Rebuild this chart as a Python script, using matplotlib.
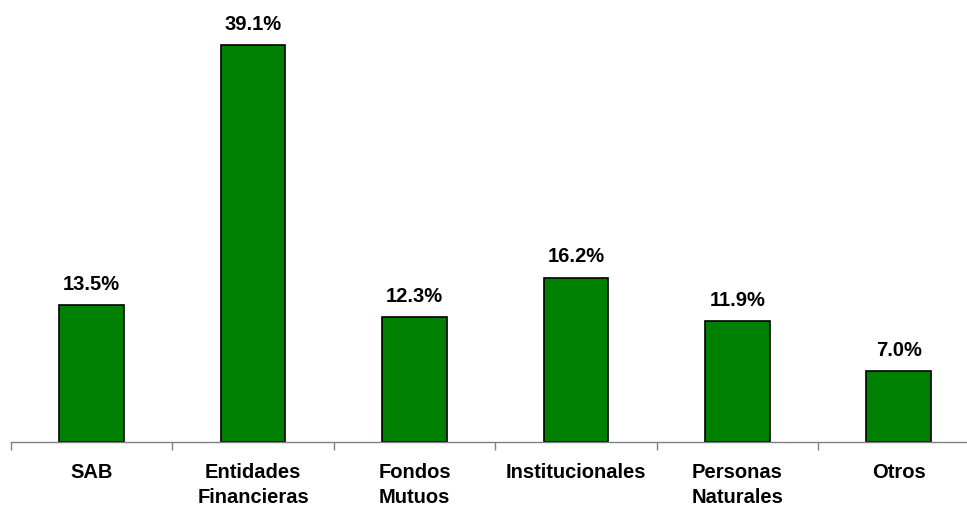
import matplotlib
matplotlib.use("Agg")
import matplotlib.pyplot as plt

categories = ["SAB", "Entidades\nFinancieras", "Fondos\nMutuos", "Institucionales", "Personas\nNaturales", "Otros"]
values = [13.5, 39.1, 12.3, 16.2, 11.9, 7.0]
value_labels = ["13.5%", "39.1%", "12.3%", "16.2%", "11.9%", "7.0%"]

plt.rcParams['font.family'] = ['Liberation Sans', 'DejaVu Sans']

W, H = 967, 512
fig = plt.figure(figsize=(W / 100, H / 100), dpi=100)
left_px, right_px = 11, 979.4
bottom_px, top_px = 442, 0
ax = fig.add_axes([left_px / W, (H - bottom_px) / H, (right_px - left_px) / W, (bottom_px - top_px) / H])

x = list(range(len(categories)))
ax.bar(x, values, width=0.4, color="#008000", edgecolor="black", linewidth=1.2, zorder=2)
ax.set_xlim(-0.5, len(categories) - 0.5)
ax.set_ylim(0, 43.55)

for xi, v, lab in zip(x, values, value_labels):
    ax.annotate(lab, (xi, v), xytext=(0, 8), textcoords="offset points",
                ha="center", va="bottom", fontsize=14.5, fontweight="bold")

for s in ["top", "right", "left"]:
    ax.spines[s].set_visible(False)
ax.spines["bottom"].set_color("#808080")
ax.spines["bottom"].set_linewidth(1.0)
ax.set_yticks([])
ax.set_xticks([i - 0.5 for i in range(len(categories) + 1)], minor=False)
ax.set_xticklabels([])
ax.tick_params(axis="x", which="major", length=6, color="#808080", width=1.0, direction="out")
ax.set_xticks(x, minor=True)
ax.set_xticklabels(categories, minor=True, fontsize=14.5, fontweight="bold", linespacing=1.4)
ax.tick_params(axis="x", which="minor", length=0, pad=15)
for t in ax.get_xticklabels(minor=True):
    t.set_verticalalignment("top")

fig.savefig("out.png", dpi=100)
